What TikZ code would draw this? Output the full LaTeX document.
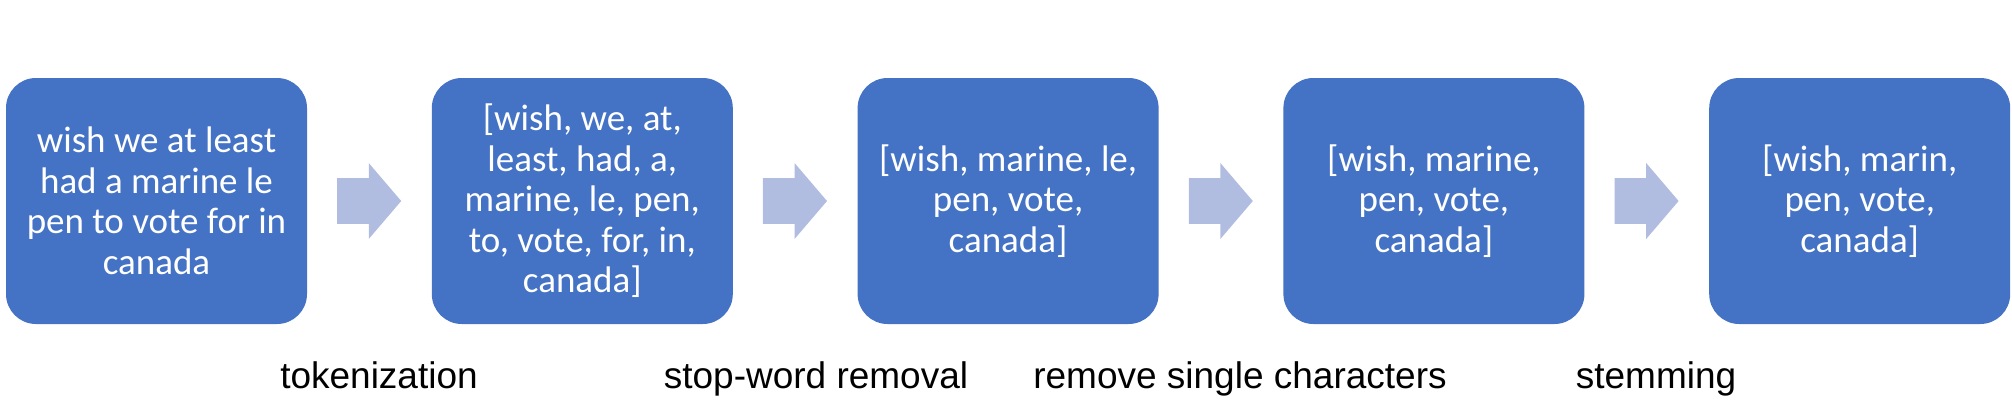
\documentclass[tikz,border=0pt]{standalone}
\usepackage{fontspec}
\setmainfont{Carlito}
\newfontfamily\arialfont{Liberation Sans}
\usetikzlibrary{positioning,shapes.arrows,calc}

\definecolor{boxblue}{HTML}{4472C4}
\definecolor{arrowblue}{HTML}{B0BCE0}

\tikzset{
  stagebox/.style = {rectangle, rounded corners = 15pt, fill = boxblue, text = white,
    minimum width = 150.5pt, minimum height = 123pt, inner sep = 0pt, align = center,
    font = \fontsize{18.5}{20.25}\selectfont},
  blockarrow/.style = {single arrow, fill = arrowblue, inner sep = 0pt,
    text height = 22.5pt, text depth = 0pt, minimum height = 32pt,
    single arrow head extend = 7.5pt, single arrow tip angle = 99},
  steplabel/.style = {anchor = base, inner sep = 0pt, font = \arialfont\fontsize{18.5}{22}\selectfont}
}

\begin{document}
\begin{tikzpicture}[x = 0.5pt, y = -0.5pt]

	\useasboundingbox (0, 0) rectangle (2012, 418);

	% Text at each stage

	\node [stagebox] (b1) at (156.5, 201) {wish we at least\\had a marine le\\pen to vote for in\\canada};
	\node [stagebox, right = 62pt of b1] (b2) {[wish, we, at,\\least, had, a,\\marine, le, pen,\\to, vote, for, in,\\canada]};
	\node [stagebox, right = 62pt of b2] (b3) {[wish, marine, le,\\pen, vote,\\canada]};
	\node [stagebox, right = 62pt of b3] (b4) {[wish, marine,\\pen, vote,\\canada]};
	\node [stagebox, right = 62pt of b4] (b5) {[wish, marin,\\pen, vote,\\canada]};

	% Arrows between the stages

	\foreach \i/\j in {1/2, 2/3, 3/4, 4/5}
		\node [blockarrow] (a\i) at ($(b\i.east)!0.5!(b\j.west) + (-10, 0)$) {};

	% Names of the steps

	\node [steplabel] (l1) at (379, 388) {tokenization};
	\node [steplabel] (l2) at (816, 388) {stop-word removal};
	\node [steplabel] (l3) at (1240, 388) {remove single characters};
	\node [steplabel] (l4) at (1656, 388) {stemming};

\end{tikzpicture}
\end{document}
